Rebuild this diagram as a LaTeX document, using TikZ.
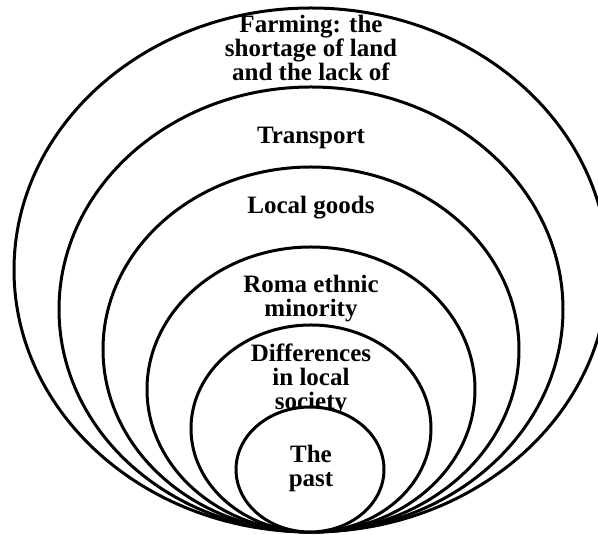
\documentclass[tikz,border=0pt]{standalone}
\usepackage{fontspec}
\setmainfont{Liberation Serif}
\begin{document}
\begin{tikzpicture}[x=1pt,y=1pt,
  ring/.style={draw=black, line width=3pt, fill=white},
  lbl/.style={font=\bfseries\fontsize{25}{24}\selectfont, align=center, inner sep=0pt, anchor=base}]
\useasboundingbox (0,0) rectangle (598,535);
\fill[white] (0,0) rectangle (598,535);
\clip (0,0) rectangle (598,535);
\path[ring] (311,265) ellipse (297 and 262);
\node[lbl] (farming) at (311,454) {Farming: the\\shortage of land\\and the lack of};
\path[ring] (311,225.5) ellipse (252 and 222.5);
\node[lbl] (transport) at (311,391) {Transport};
\path[ring] (311,185.5) ellipse (208 and 182.5);
\node[lbl] (goods) at (311,321) {Local goods};
\path[ring] (311,145.5) ellipse (164 and 142.5);
\node[lbl] (roma) at (311,218) {Roma ethnic\\minority};
\path[ring] (311,106.5) ellipse (120 and 103.5);
\node[lbl] (diff) at (311,125) {Differences\\in local\\society};
\path[ring] (310,65.5) ellipse (74 and 62.5);
\node[lbl] (past) at (311,48) {The\\past};
\end{tikzpicture}
\end{document}
